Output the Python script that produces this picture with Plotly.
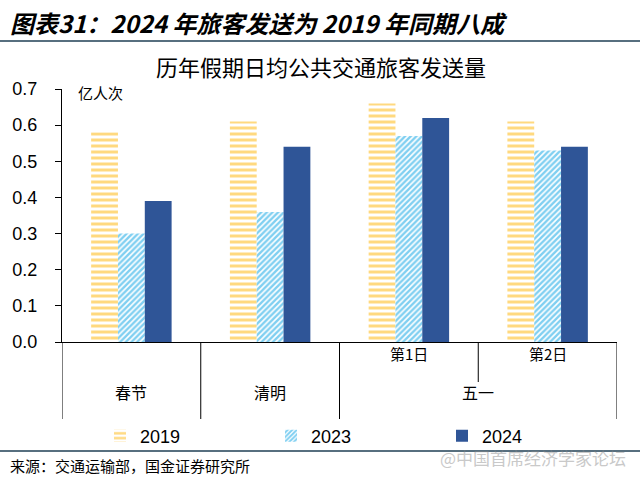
import plotly.graph_objects as go

# ---- data ----
categories = ["春节", "清明", "第1日", "第2日"]
inner_labels = ["", "", "第1日", "第2日"]
outer_groups = [("春节", [0]), ("清明", [1]), ("五一", [2, 3])]
series_names = ["2019", "2023", "2024"]
v2019 = [0.58, 0.61, 0.66, 0.61]
v2023 = [0.30, 0.36, 0.57, 0.53]
v2024 = [0.39, 0.54, 0.62, 0.54]
y_ticks = [0.0, 0.1, 0.2, 0.3, 0.4, 0.5, 0.6, 0.7]

W, H = 640, 480
L, R, T, B = 62, 23, 89, 138
PW, PH = W - L - R, H - T - B

def px2x(px):
    return (px - L) / PW

def px2y(py):
    return (H - B - py) / PH

CJK = "Noto Sans CJK SC"
ARIAL = "Liberation Sans, Arial"

fig = go.Figure()
fig.add_bar(
    x=categories, y=v2019, name=series_names[0],
    marker=dict(color="white", line=dict(width=0),
                pattern=dict(shape="-", fgcolor="#FFB300", bgcolor="white",
                             size=6, solidity=0.5, fillmode="overlay")),
)
fig.add_bar(
    x=categories, y=v2023, name=series_names[1],
    marker=dict(color="white", line=dict(width=0),
                pattern=dict(shape="/", fgcolor="#009FE3", bgcolor="white",
                             size=4, solidity=0.6, fillmode="overlay")),
)
fig.add_bar(
    x=categories, y=v2024, name=series_names[2],
    marker=dict(color="#2F5597", line=dict(width=0)),
)

fig.update_layout(
    width=W, height=H,
    margin=dict(l=L, r=R, t=T, b=B, autoexpand=False),
    paper_bgcolor="white", plot_bgcolor="white",
    barmode="group", bargap=0.42, bargroupgap=0,
    font=dict(family=ARIAL, color="black"),
    showlegend=True,
    legend=dict(orientation="h", x=px2x(100), xanchor="left",
                y=px2y(436), yanchor="middle",
                entrywidth=126, entrywidthmode="pixels",
                itemwidth=30,
                font=dict(size=18, family=ARIAL), bgcolor="rgba(0,0,0,0)"),
)
fig.update_xaxes(
    type="category", range=[-0.5, len(categories) - 0.5],
    showticklabels=False, ticks="", showgrid=False,
    showline=True, linecolor="black", linewidth=1, zeroline=False,
)
fig.update_yaxes(
    range=[0, 0.7], tickvals=y_ticks, tickformat=".1f",
    ticks="outside", ticklen=6, tickcolor="black",
    ticklabelstandoff=14,
    showline=True, linecolor="black", linewidth=1,
    showgrid=False, zeroline=False,
    tickfont=dict(size=18, family=ARIAL),
)

# category dividers below the axis
for i in range(len(categories) + 1):
    boundary = i - 0.5
    is_group_edge = boundary in (-0.5, len(categories) - 0.5) or \
        any(boundary == idx[0] - 0.5 for _, idx in outer_groups)
    y_end = px2y(419) if is_group_edge else px2y(382)
    fig.add_shape(type="line", xref="x", yref="paper",
                  x0=boundary, x1=boundary, y0=0, y1=y_end,
                  line=dict(color="black", width=1))

# inner labels
for i, lab in enumerate(inner_labels):
    if lab:
        fig.add_annotation(x=categories[i], y=px2y(366), xref="x", yref="paper",
                           text=lab, showarrow=False,
                           font=dict(size=15, family=CJK, color="black"))
# outer labels
for name, idx in outer_groups:
    center = sum(idx) / len(idx)
    fig.add_annotation(x=center, y=px2y(406), xref="x", yref="paper",
                       text=name, showarrow=False,
                       font=dict(size=16, family=CJK, color="black"))

# unit label
fig.add_annotation(x=px2x(76), y=px2y(92), xref="paper", yref="paper",
                   xanchor="left", yanchor="middle", text="亿人次", showarrow=False,
                   font=dict(size=15, family=CJK, color="black"))

# chart title
fig.add_annotation(x=px2x(321), y=px2y(66), xref="paper", yref="paper",
                   xanchor="center", yanchor="middle",
                   text="历年假期日均公共交通旅客发送量", showarrow=False,
                   font=dict(size=22, family=CJK, color="black"))

# heading
fig.add_annotation(x=px2x(8), y=px2y(22), xref="paper", yref="paper",
                   xanchor="left", yanchor="middle",
                   text="图表31：2024 年旅客发送为 2019 年同期八成", showarrow=False,
                   font=dict(size=24, family=CJK, color="black",
                             weight="bold", style="italic"))

# rules
for py in (41, 451):
    fig.add_shape(type="line", xref="paper", yref="paper",
                  x0=px2x(0), x1=px2x(640), y0=px2y(py), y1=px2y(py),
                  line=dict(color="#1F3F55", width=1.5))

# source
fig.add_annotation(x=px2x(8), y=px2y(465), xref="paper", yref="paper",
                   xanchor="left", yanchor="middle",
                   text="来源：交通运输部，国金证券研究所", showarrow=False,
                   font=dict(size=15, family=CJK, color="black"))

# watermark
fig.add_annotation(x=px2x(628), y=px2y(457), xref="paper", yref="paper",
                   xanchor="right", yanchor="middle",
                   text="@中国首席经济学家论坛", showarrow=False, opacity=0.45,
                   font=dict(size=17, family=CJK, color="#888888"))

fig.write_html("out.html",
               config={"displayModeBar": False},
               post_script="document.body.style.margin='0';document.body.style.padding='0';")
